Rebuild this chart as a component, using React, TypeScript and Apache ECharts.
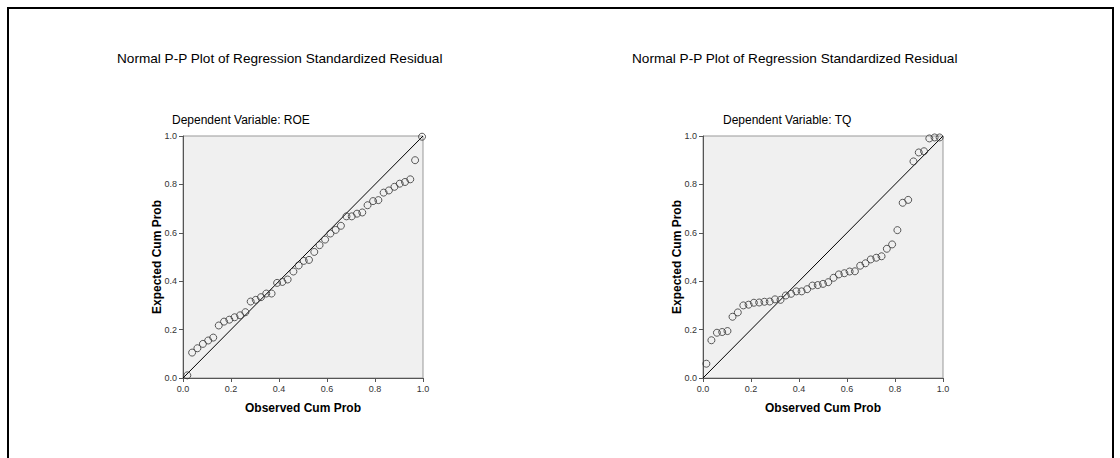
import React, { useEffect, useRef } from "react";
import * as echarts from "echarts";

const mainTitle = "Normal P-P Plot of Regression Standardized Residual";
const dependentLabels = ["Dependent Variable: ROE", "Dependent Variable: TQ"];
const xAxisName = "Observed Cum Prob";
const yAxisName = "Expected Cum Prob";

const roeObserved = [
  0.018, 0.038, 0.06, 0.083, 0.105, 0.126, 0.149, 0.171, 0.193, 0.215,
  0.238, 0.26, 0.282, 0.303, 0.325, 0.347, 0.369, 0.392, 0.414, 0.436,
  0.46, 0.482, 0.503, 0.525, 0.547, 0.569, 0.592, 0.614, 0.636, 0.658,
  0.681, 0.703, 0.725, 0.747, 0.769, 0.792, 0.814, 0.836, 0.858, 0.881,
  0.903, 0.925, 0.947, 0.967, 0.996,
];
const roeExpected = [
  0.011, 0.105, 0.123, 0.141, 0.155, 0.167, 0.217, 0.233, 0.241, 0.251,
  0.259, 0.272, 0.316, 0.323, 0.334, 0.349, 0.349, 0.393, 0.397, 0.407,
  0.44, 0.465, 0.484, 0.488, 0.521, 0.549, 0.572, 0.597, 0.612, 0.629,
  0.668, 0.668, 0.679, 0.684, 0.714, 0.731, 0.735, 0.766, 0.775, 0.79,
  0.803, 0.81, 0.821, 0.9, 0.997,
];

const tqObserved = [
  0.014, 0.035, 0.058, 0.08, 0.102, 0.123, 0.145, 0.168, 0.19, 0.212,
  0.234, 0.256, 0.278, 0.3, 0.323, 0.345, 0.367, 0.389, 0.411, 0.434,
  0.456, 0.478, 0.5, 0.522, 0.544, 0.566, 0.589, 0.611, 0.633, 0.655,
  0.677, 0.699, 0.722, 0.744, 0.766, 0.788, 0.81, 0.832, 0.855, 0.877,
  0.899, 0.921, 0.943, 0.965, 0.986,
];
const tqExpected = [
  0.059, 0.156, 0.187, 0.19, 0.194, 0.253, 0.271, 0.3, 0.303, 0.311,
  0.312, 0.315, 0.316, 0.325, 0.323, 0.341, 0.348, 0.358, 0.358, 0.367,
  0.382, 0.384, 0.389, 0.396, 0.414, 0.428, 0.433, 0.44, 0.441, 0.464,
  0.474, 0.49, 0.497, 0.503, 0.534, 0.552, 0.611, 0.724, 0.736, 0.895,
  0.932, 0.937, 0.99, 0.994, 0.994,
];

const diagonalX = [0, 1];
const diagonalY = [0, 1];

const FONT = "'Liberation Sans', Arial, sans-serif";

function zip(a: number[], b: number[]) {
  return a.map((v, i) => [v, b[i]]);
}

export default function App() {
  const ref = useRef<HTMLDivElement>(null);

  useEffect(() => {
    if (!ref.current) return;
    const chart = echarts.init(ref.current, null, { renderer: "svg" });

    const grids = [
      { left: 183, top: 136, width: 240, height: 242 },
      { left: 703, top: 136, width: 240, height: 242 },
    ];

    const axisCommon = {
      min: 0,
      max: 1,
      interval: 0.2,
      type: "value" as const,
      axisLine: { show: true, lineStyle: { color: "#555", width: 1 } },
      axisTick: { show: true, length: 4, lineStyle: { color: "#555", width: 1 } },
      axisLabel: {
        fontSize: 9,
        color: "#333",
        fontFamily: FONT,
        margin: 6,
        formatter: (v: number) => v.toFixed(1),
      },
      splitLine: { show: false },
    };

    const datasets = [
      { obs: roeObserved, exp: roeExpected },
      { obs: tqObserved, exp: tqExpected },
    ];

    const series: any[] = [];
    datasets.forEach((d, i) => {
      series.push({
        type: "line",
        xAxisIndex: i,
        yAxisIndex: i,
        data: zip(diagonalX, diagonalY),
        showSymbol: false,
        symbol: "none",
        silent: true,
        lineStyle: { color: "#000", width: 1 },
        z: 2,
      });
      series.push({
        type: "scatter",
        xAxisIndex: i,
        yAxisIndex: i,
        data: zip(d.obs, d.exp),
        symbol: "circle",
        symbolSize: 7,
        itemStyle: {
          color: "rgba(0,0,0,0)",
          borderColor: "#333",
          borderWidth: 1,
        },
        z: 3,
      });
    });

    const graphic: any[] = [
      {
        type: "polyline",
        shape: { points: [[8, 470], [8, 8], [1113, 8], [1113, 470]] },
        style: { stroke: "#000", lineWidth: 2, fill: "none" },
        silent: true,
      },
    ];

    const titleX = [117, 632];
    const depX = [172, 723];
    grids.forEach((g, i) => {
      graphic.push({
        type: "text",
        x: titleX[i],
        y: 58,
        style: {
          text: mainTitle,
          font: `13.6px ${FONT}`,
          fill: "#000",
          textVerticalAlign: "middle",
          textAlign: "left",
        },
      });
      graphic.push({
        type: "text",
        x: depX[i],
        y: 120,
        style: {
          text: dependentLabels[i],
          font: `12px ${FONT}`,
          fill: "#000",
          textVerticalAlign: "middle",
          textAlign: "left",
        },
      });
      graphic.push({
        type: "text",
        x: g.left + g.width / 2,
        y: 408,
        style: {
          text: xAxisName,
          font: `bold 12px ${FONT}`,
          fill: "#000",
          textVerticalAlign: "middle",
          textAlign: "center",
        },
      });
      graphic.push({
        type: "text",
        x: g.left - 26,
        y: g.top + g.height / 2,
        rotation: Math.PI / 2,
        style: {
          text: yAxisName,
          font: `bold 12px ${FONT}`,
          fill: "#000",
          textVerticalAlign: "middle",
          textAlign: "center",
        },
      });
    });

    chart.setOption({
      animation: false,
      backgroundColor: "#fff",
      grid: grids.map((g) => ({
        ...g,
        show: true,
        backgroundColor: "#f0f0f0",
        borderColor: "#999",
        borderWidth: 1,
      })),
      xAxis: grids.map((_, i) => ({ ...axisCommon, gridIndex: i })),
      yAxis: grids.map((_, i) => ({ ...axisCommon, gridIndex: i })),
      series,
      graphic,
    });

    return () => chart.dispose();
  }, []);

  return (
    <div
      ref={ref}
      style={{ position: "fixed", left: 0, top: 0, width: 1120, height: 458 }}
    />
  );
}
